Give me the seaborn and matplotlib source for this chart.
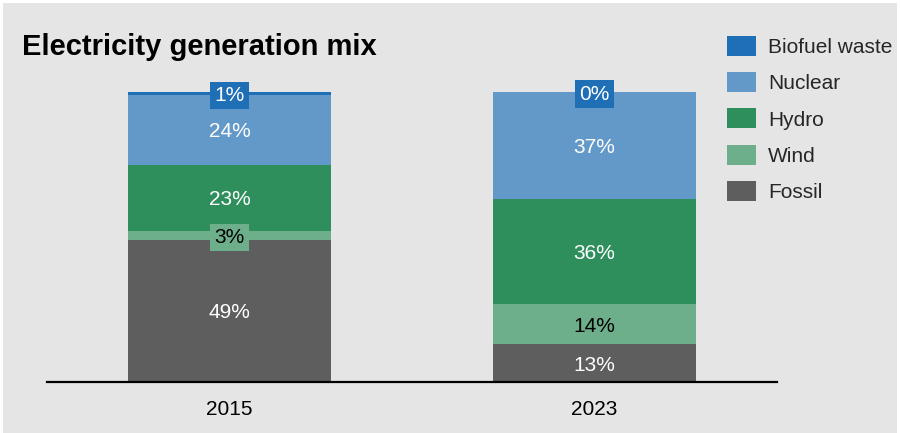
import matplotlib
matplotlib.use("Agg")
import matplotlib.pyplot as plt
from matplotlib.patches import Patch, Rectangle
import numpy as np
import pandas as pd
import seaborn as sns

# Generation shares (%) per year, stacked from bottom to top
years = ["2015", "2023"]
sources = ["Fossil", "Wind", "Hydro", "Nuclear", "Biofuel waste"]
fossil = [49, 13]
wind = [3, 14]
hydro = [23, 36]
nuclear = [24, 37]
biofuel = [1, 0]

colors = {
    "Fossil": "#5e5e5e",
    "Wind": "#6daf8a",
    "Hydro": "#2e8f5c",
    "Nuclear": "#6399c8",
    "Biofuel waste": "#1f6fb7",
}
text_colors = {
    "Fossil": "white",
    "Wind": "black",
    "Hydro": "white",
    "Nuclear": "white",
    "Biofuel waste": "white",
}

series = {"Fossil": fossil, "Wind": wind, "Hydro": hydro,
          "Nuclear": nuclear, "Biofuel waste": biofuel}

sns.set_theme(style="white")
plt.rcParams["font.family"] = ["Liberation Sans", "DejaVu Sans"]

W, H = 900, 433
fig = plt.figure(figsize=(W / 100, H / 100), dpi=100, facecolor="white")
fig.patches.append(Rectangle((3 / W, 0), (W - 6) / W, (H - 3) / H,
                             transform=fig.transFigure, facecolor="#e5e5e5",
                             edgecolor="none", zorder=-10))

ax = fig.add_axes([47 / W, (H - 382) / H, 730 / W, 290 / H])
ax.set_facecolor("none")

bottom = np.zeros(len(years))
for src in sources:
    vals = np.array(series[src], dtype=float)
    df = pd.DataFrame({"year": years, "share": vals})
    sns.barplot(data=df, x="year", y="share", ax=ax, color=colors[src],
                width=0.557, bottom=bottom, errorbar=None, saturation=1,
                linewidth=0)
    for i, (v, b) in enumerate(zip(vals, bottom)):
        y = b + v / 2
        kw = {}
        if v < 5:
            kw["bbox"] = dict(boxstyle="square,pad=0.2",
                              facecolor=colors[src], edgecolor="none")
        ax.text(i, y, f"{v:.0f}%", ha="center", va="center_baseline",
                fontsize=15, color=text_colors[src], clip_on=False, zorder=5,
                **kw)
    bottom = bottom + vals

ax.set_xlim(-0.5, 1.5)
ax.set_ylim(0, 100)
ax.set_xlabel("")
ax.set_ylabel("")
ax.set_yticks([])
ax.tick_params(axis="x", length=0, labelsize=15, pad=13, colors="black")
for s in ["top", "right", "left"]:
    ax.spines[s].set_visible(False)
ax.spines["bottom"].set_color("black")
ax.spines["bottom"].set_linewidth(1.6)
ax.spines["bottom"].set_zorder(6)

fig.text(22 / W, 1 - 47 / H, "Electricity generation mix", fontsize=21,
         fontweight="bold", ha="left", va="center", color="black")

handles = [Patch(facecolor=colors[s], edgecolor="none", label=s)
           for s in reversed(sources)]
fig.legend(handles=handles, loc="upper left",
           bbox_to_anchor=(721 / W, 1 - 30 / H), frameon=False, fontsize=15,
           handlelength=1.4, handleheight=1.1, handletextpad=0.55,
           labelspacing=0.72, borderaxespad=0, borderpad=0.3)

fig.savefig("out.png", dpi=100, facecolor=fig.get_facecolor())
